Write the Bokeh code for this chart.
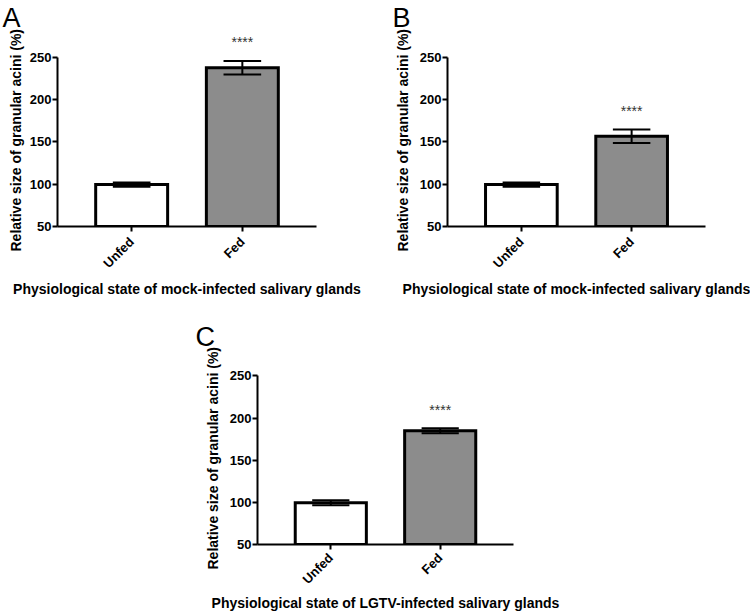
from bokeh.plotting import figure
from bokeh.models import Range1d, FixedTicker, LabelSet, ColumnDataSource, Spacer, Title
from bokeh.layouts import row, column
from bokeh.embed import file_html
from bokeh.resources import INLINE
from bokeh.core.properties import value
import math

# ---- data ----
categories = ["Unfed", "Fed"]
x_pos = [1, 2]
a_means = [99.5, 237.5]
a_sems = [2.5, 8.0]
b_means = [99.5, 156.5]
b_sems = [2.5, 8.0]
c_means = [99.5, 185.0]
c_sems = [3.0, 3.0]
significance = ["", "****"]
y_ticks = [50, 100, 150, 200, 250]
y_title = "Relative size of granular acini (%)"
x_title_mock = "Physiological state of mock-infected salivary glands"
x_title_lgtv = "Physiological state of LGTV-infected salivary glands"
bar_colors = ["#ffffff", "#8c8c8c"]

FONT = "Liberation Sans"


def make_panel(letter, means, sems, xtitle, width, height, mbl, mbr, mbt, mbb, letter_off,
               xlab_standoff=8, xtitle_standoff=2, ytitle_standoff=12):
    p = figure(width=width, height=height, output_backend="svg", toolbar_location=None,
               x_range=Range1d(0.33, 2.67), y_range=Range1d(y_ticks[0], 279),
               min_border_left=mbl, min_border_right=mbr, min_border_top=mbt,
               min_border_bottom=mbb)
    p.outline_line_color = None
    p.grid.visible = False
    p.background_fill_color = "white"
    p.border_fill_color = "white"

    # panel letter
    p.title.text = letter
    p.title.align = "left"
    p.title.offset = letter_off
    p.title.standoff = 0
    p.title.text_font = FONT
    p.title.text_font_size = "27px"
    p.title.text_font_style = "normal"
    p.title.text_color = "black"

    p.vbar(x=x_pos, width=0.65, top=means, bottom=y_ticks[0],
           fill_color=bar_colors, line_color="black", line_width=3, line_join="miter")

    lo = [m - s for m, s in zip(means, sems)]
    hi = [m + s for m, s in zip(means, sems)]
    p.segment(x0=x_pos, x1=x_pos, y0=lo, y1=hi, line_color="black", line_width=2)
    cap = 0.17
    xl = [x - cap for x in x_pos]
    xr = [x + cap for x in x_pos]
    p.segment(x0=xl, x1=xr, y0=hi, y1=hi, line_color="black", line_width=2)
    p.segment(x0=xl, x1=xr, y0=lo, y1=lo, line_color="black", line_width=2)

    src = ColumnDataSource(dict(x=x_pos, y=[h + 22 for h in hi], text=significance))
    p.add_layout(LabelSet(x="x", y="y", text="text", source=src, text_align="center",
                          text_baseline="middle", text_font_size="14px",
                          text_font=value(FONT), text_color="#333333"))

    # axes
    p.yaxis.ticker = FixedTicker(ticks=y_ticks)
    p.yaxis.bounds = (y_ticks[0], y_ticks[-1])
    p.xaxis.ticker = FixedTicker(ticks=x_pos)
    p.xaxis.major_label_overrides = {x: c for x, c in zip(x_pos, categories)}
    p.xaxis.major_label_orientation = math.pi / 4
    for ax in (p.xaxis, p.yaxis):
        ax.axis_line_width = 2
        ax.axis_line_color = "black"
        ax.major_tick_line_width = 2
        ax.major_tick_line_color = "black"
        ax.major_tick_in = 0
        ax.major_tick_out = 5
        ax.minor_tick_line_color = None
        ax.major_label_text_font = FONT
        ax.major_label_text_font_style = "bold"
        ax.major_label_text_font_size = "13px"
        ax.major_label_text_color = "black"
        ax.axis_label_text_font = FONT
        ax.axis_label_text_font_style = "bold"
        ax.axis_label_text_font_size = "14px"
        ax.axis_label_text_color = "black"
    p.yaxis.major_label_standoff = 1
    p.xaxis.major_label_standoff = xlab_standoff
    p.xaxis.axis_label = xtitle
    p.xaxis.axis_label_standoff = xtitle_standoff

    # y-axis title, aligned on the 50-250 axis line
    p.add_layout(Title(text=y_title, align="left", offset=-25, standoff=ytitle_standoff,
                       text_font=FONT, text_font_size="14px", text_font_style="bold",
                       text_color="black"), "left")
    return p


pA = make_panel("A", a_means, a_sems, x_title_mock, 385, 300, 57, 69, 32, 72, -55,
                ytitle_standoff=5)
pB = make_panel("B", b_means, b_sems, x_title_mock, 365, 300, 62, 45, 32, 72, -55)
pC = make_panel("C", c_means, c_sems, x_title_lgtv, 383, 314, 67, 60, 51, 68, -62,
                xlab_standoff=6, xtitle_standoff=0)

layout = column(row(pA, pB), row(Spacer(width=190, height=314), pC))

open("out.html", "w").write(file_html(layout, INLINE))
